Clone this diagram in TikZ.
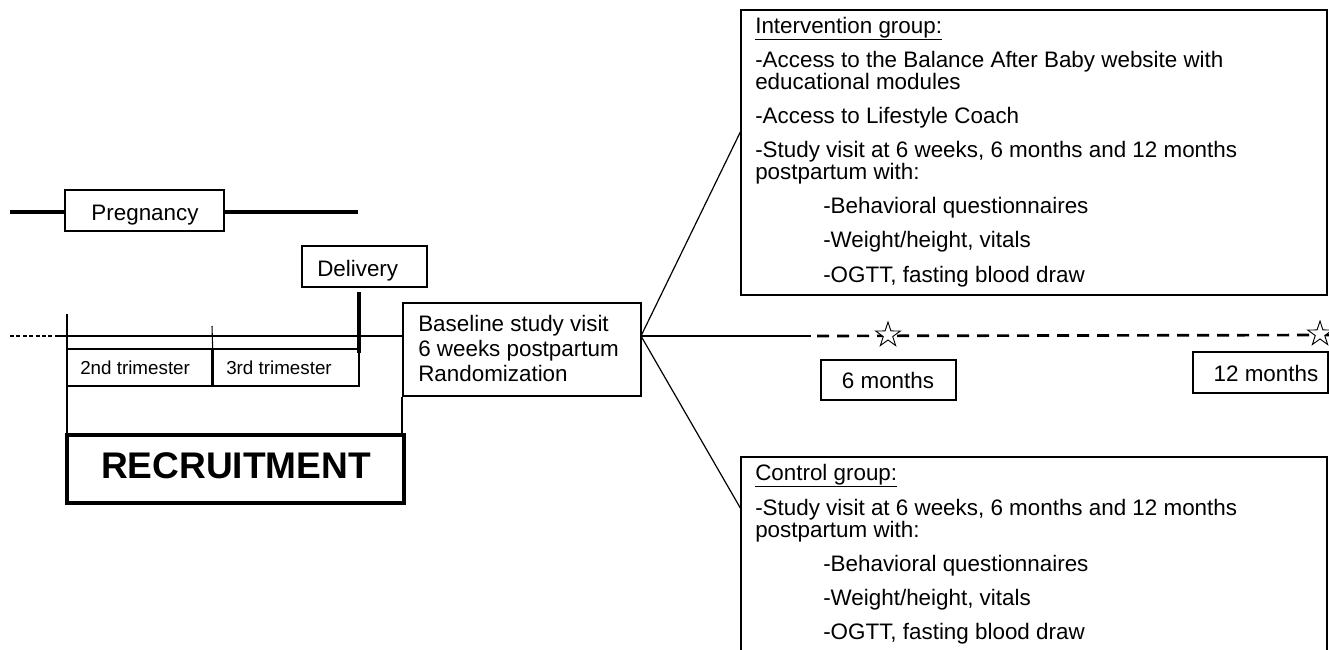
\documentclass[tikz,border=0pt]{standalone}
\usepackage{fontspec}
\setmainfont{Liberation Sans}
\usetikzlibrary{fit,shapes.geometric}
\newcommand\mainsz{\fontsize{16.8pt}{20pt}\selectfont}
\newcommand\smallsz{\fontsize{14.1pt}{17pt}\selectfont}
\newcommand\bigsz{\bfseries\fontsize{27.8pt}{32pt}\selectfont}
\begin{document}
\begin{tikzpicture}[x=0.75pt,y=-0.75pt,
  box/.style={draw, line width=1pt, inner sep=0pt},
  txt/.style={anchor=base west, inner sep=0pt, font=\mainsz},
  ctxt/.style={anchor=base, inner sep=0pt, font=\mainsz},
  stxt/.style={anchor=base west, inner sep=0pt, font=\smallsz},
  thickl/.style={line width=2pt},
  thinl/.style={line width=0.9pt},
  starnode/.style={star, star points=5, star point ratio=2.6, draw, fill=white, line width=0.7pt, minimum size=19.5pt, inner sep=0pt}]
\useasboundingbox (0,0) rectangle (1329,650);
\fill[white] (0,0) rectangle (1329,650);
\clip (0,0) rectangle (1329,650);

% Pregnancy
\node[box, line width=1.2pt, fit={(65,190) (224,231)}] (preg) {};
\node[ctxt] (pregt) at (145,220) {Pregnancy};
\coordinate (pregL) at (10,212);
\coordinate (pregR) at (358,212);
\draw[line width=2.4pt] (pregL) -- (preg.west |- pregL);
\draw[line width=2.4pt] (preg.east |- pregR) -- (pregR);

% Delivery
\node[box, fit={(302,246) (427,287)}] (deliv) {};
\node[txt] (delivt) at (317,276) {Delivery};
\coordinate (dtop) at (359,292);
\coordinate (dbot) at (359,353);
\draw[line width=3pt] (dtop) -- (dbot);

% Baseline box
\node[box, fit={(403,303) (641,396)}] (base) {};
\node[txt] (b1) at (418,331) {Baseline study visit};
\node[txt] (b2) at (418,356) {6 weeks postpartum};
\node[txt] (b3) at (418,381) {Randomization};

% timeline left
\coordinate (dotL) at (10,336);
\coordinate (dotR) at (55,336);
\draw[thickl, dash pattern=on 3pt off 1.8pt] (dotL) -- (dotR);
\draw[thickl] (dotR) -- (base.west |- dotR);

% trimester boxes
\node[box, fit={(67,349) (212,386)}] (tri2) {};
\node[box, fit={(212,349) (359,386)}] (tri3) {};
\node[stxt] (t2) at (80,374) {2nd trimester};
\node[stxt] (t3) at (226,374) {3rd trimester};
\draw[line width=1.6pt] (tri2.north east) -- (tri2.south east);
\coordinate (tick) at (212,326);
\draw[line width=0.8pt] (tick) -- (tri2.north east);

% Recruitment
\node[draw, line width=3pt, inner sep=0pt, fit={(67,435) (404,503)}] (recr) {};
\node[anchor=base, inner sep=0pt, font=\bigsz] (recrt) at (236,478) {RECRUITMENT};
\coordinate (vtop) at (67,314);
\draw[line width=1.5pt] (vtop) -- (vtop |- recr.north);
\draw[line width=1.5pt] (base.south west) -- (base.south west |- recr.north);

% Intervention box
\node[box, fit={(741,10) (1327,295)}] (interv) {};
\node[txt] at (755,33) {\underline{Intervention group:}};
\node[txt] at (755,67) {-Access to the Balance After Baby website with};
\node[txt] at (755,89) {educational modules};
\node[txt] at (755,123) {-Access to Lifestyle Coach};
\node[txt] at (755,157) {-Study visit at 6 weeks, 6 months and 12 months};
\node[txt] at (755,179) {postpartum with:};
\node[txt] at (823,213) {-Behavioral questionnaires};
\node[txt] at (823,247) {-Weight/height, vitals};
\node[txt] at (823,282) {-OGTT, fasting blood draw};

% Control box (extends beyond bottom)
\node[box, fit={(741,457) (1327,690)}] (ctrl) {};
\node[txt] at (755,480) {\underline{Control group:}};
\node[txt] at (755,515) {-Study visit at 6 weeks, 6 months and 12 months};
\node[txt] at (755,537) {postpartum with:};
\node[txt] at (823,571) {-Behavioral questionnaires};
\node[txt] at (823,605) {-Weight/height, vitals};
\node[txt] at (823,639) {-OGTT, fasting blood draw};

% branches
\coordinate (bE) at (641,336);
\draw[thinl] (bE) -- (interv.west |- 0,132);
\draw[thinl] (bE) -- (ctrl.west |- 0,508);

% timeline right
\coordinate (solidEnd) at (811,336);
\coordinate (far) at (1329,335);
\draw[thickl] (bE) -- (solidEnd);
\draw[thickl, dash pattern=on 9pt off 6pt, dash phase=-4.5pt] (solidEnd) -- (far);
\node[starnode] (s6) at (888,335) {};
\node[starnode] (s12) at (1320,334) {};

% month boxes
\node[box, fit={(821,360) (956,400)}] (m6) {};
\node[ctxt] (m6t) at (888,388) {6 months};
\node[box, fit={(1193,352) (1328,393)}] (m12) {};
\node[ctxt] (m12t) at (1266,381) {12 months};
\end{tikzpicture}
\end{document}
